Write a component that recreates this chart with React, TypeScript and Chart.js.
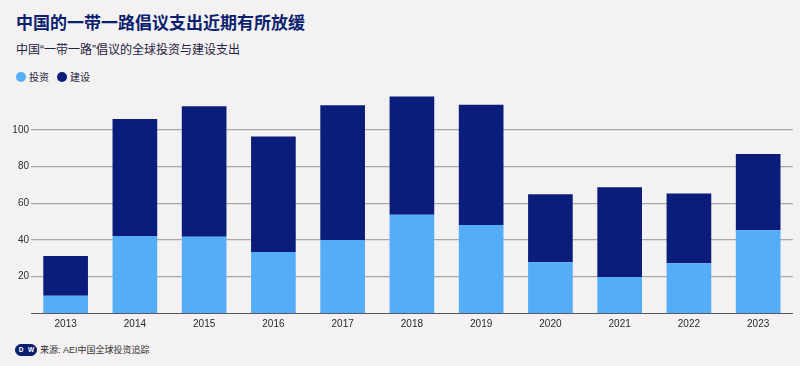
import React, { useEffect, useRef } from "react";
import { Chart, registerables } from "chart.js";

Chart.register(...registerables);

const years = ["2013", "2014", "2015", "2016", "2017", "2018", "2019", "2020", "2021", "2022", "2023"];
const investment = [9.6, 42.2, 41.8, 33.4, 40.0, 53.8, 48.2, 27.8, 19.8, 27.3, 45.3];
const construction = [21.7, 63.8, 71.2, 63.1, 73.5, 64.4, 65.6, 37.1, 48.9, 38.0, 41.6];

const LIGHT = "#55adf7";
const NAVY = "#0b1d7a";
const BG = "#f3f1f1";
const FONT = "'Noto Sans CJK SC', 'Noto Sans', sans-serif";
const MIXFONT = "'Liberation Sans', 'Noto Sans CJK SC', sans-serif";
const NUMFONT = "'Liberation Sans', Arial, sans-serif";

export default function App() {
  const ref = useRef<HTMLCanvasElement | null>(null);

  useEffect(() => {
    if (!ref.current) return;
    const chart = new Chart(ref.current, {
      type: "bar",
      data: {
        labels: years,
        datasets: [
          { label: "投资", data: investment, backgroundColor: LIGHT, categoryPercentage: 1, barPercentage: 0.645 },
          { label: "建设", data: construction, backgroundColor: NAVY, categoryPercentage: 1, barPercentage: 0.645 },
        ],
      },
      options: {
        animation: false,
        responsive: false,
        maintainAspectRatio: false,
        layout: { padding: { top: 8.3, left: 0, right: 7.2, bottom: 0 } },
        plugins: { legend: { display: false }, tooltip: { enabled: false } },
        scales: {
          x: {
            stacked: true,
            grid: { display: false, drawTicks: false },
            border: { display: true, color: "#555555", width: 1 },
            ticks: { color: "#2a2a2a", font: { family: NUMFONT, size: 10 }, padding: 5 },
            afterFit: (s: any) => { s.height = 21.7; },
          },
          y: {
            stacked: true,
            min: 0,
            max: 120,
            grid: { color: "#a8a8a8", lineWidth: 1.3, drawTicks: false },
            border: { display: false },
            ticks: { stepSize: 20, color: "#2e2e2e", font: { family: NUMFONT, size: 10 }, padding: 2 },
            afterBuildTicks: (s: any) => { s.ticks = s.ticks.filter((t: any) => t.value > 0 && t.value < 120); },
            afterFit: (s: any) => { s.width = 31; },
          },
        },
      },
    });
    return () => chart.destroy();
  }, []);

  const dot = (c: string) => ({
    display: "inline-block",
    width: 10,
    height: 10,
    borderRadius: "50%",
    background: c,
    marginRight: 3,
    verticalAlign: "middle",
  });

  const logoCircle = {
    display: "inline-block",
    width: 10,
    height: 10,
    borderRadius: "50%",
    background: "#0c1f6f",
    color: "#fff",
    fontSize: 6.5,
    fontWeight: 700,
    fontFamily: NUMFONT,
    lineHeight: "10px",
    textAlign: "center" as const,
  };

  return (
    <div style={{ position: "fixed", left: 0, top: 0, width: 800, height: 366, background: BG, overflow: "hidden", fontFamily: FONT }}>
      <div style={{ position: "absolute", left: 16, top: 10, fontSize: 17, fontWeight: 700, color: "#0c1f6f", lineHeight: "24px", whiteSpace: "nowrap" }}>
        中国的一带一路倡议支出近期有所放缓
      </div>
      <div style={{ position: "absolute", left: 16, top: 41, fontSize: 12, color: "#1d2340", lineHeight: "18px", whiteSpace: "nowrap", fontFamily: MIXFONT }}>
        中国“一带一路”倡议的全球投资与建设支出
      </div>
      <div style={{ position: "absolute", left: 16, top: 69, fontSize: 10, color: "#1d2340", lineHeight: "16px", whiteSpace: "nowrap", display: "flex", alignItems: "center" }}>
        <span style={dot(LIGHT)}></span>
        <span style={{ marginRight: 8 }}>投资</span>
        <span style={dot(NAVY)}></span>
        <span>建设</span>
      </div>
      <canvas ref={ref} width={800} height={250} style={{ position: "absolute", left: 0, top: 85, width: 800, height: 250 }} />
      <div style={{ position: "absolute", left: 15, top: 344, display: "flex", border: "1px solid #0c1f6f", borderRadius: 6, background: "#0c1f6f" }}>
        <span style={logoCircle}>D</span>
        <span style={logoCircle}>W</span>
      </div>
      <div style={{ position: "absolute", left: 40, top: 342, fontSize: 9, color: "#333", lineHeight: "16px", whiteSpace: "nowrap", fontFamily: MIXFONT }}>
        来源: AEI中国全球投资追踪
      </div>
    </div>
  );
}
